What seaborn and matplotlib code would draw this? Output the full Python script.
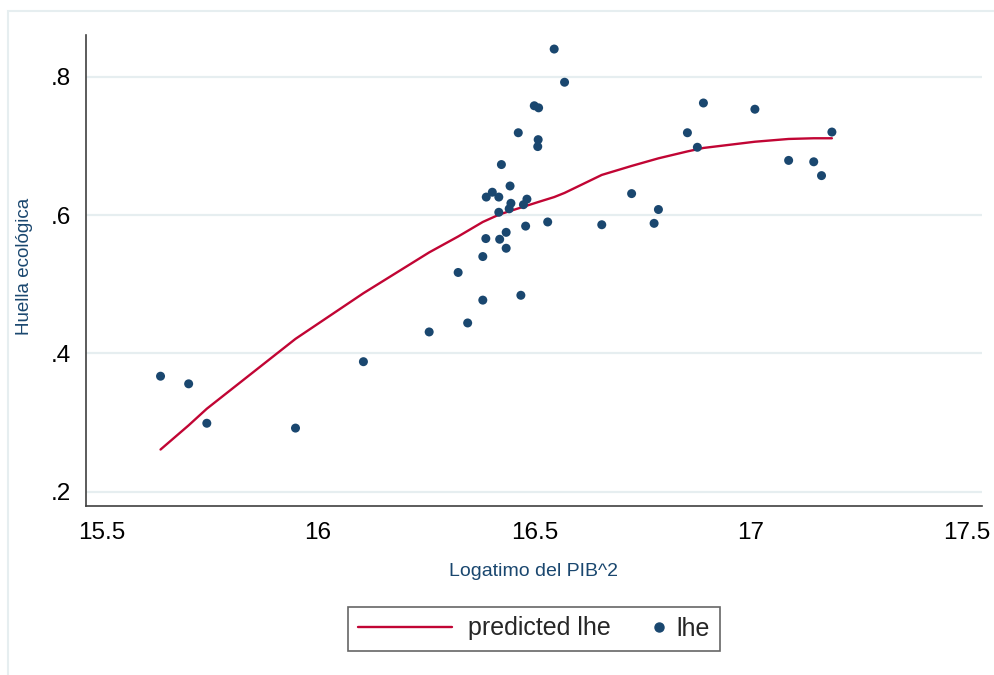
import matplotlib
matplotlib.use("Agg")
import matplotlib.pyplot as plt
import seaborn as sns
from matplotlib.lines import Line2D
from matplotlib.patches import Rectangle
from matplotlib.legend_handler import HandlerBase

# observed points (log GDP^2, ecological footprint)
lpib = [15.636, 15.701, 15.743, 15.948, 16.105, 16.257, 16.346, 16.381, 16.324, 16.381,
        16.388, 16.389, 16.403, 16.546, 16.570, 16.500, 16.510, 16.463, 16.509, 16.508,
        16.424, 16.444, 16.418, 16.483, 16.446, 16.442, 16.475, 16.418, 16.420, 16.435,
        16.435, 16.480, 16.531, 16.469, 16.656, 16.725, 16.777, 16.787, 16.854, 16.877,
        16.891, 17.010, 17.088, 17.146, 17.164, 17.188]
lhe = [0.367, 0.356, 0.299, 0.292, 0.388, 0.431, 0.444, 0.477, 0.517, 0.540,
       0.566, 0.626, 0.633, 0.840, 0.792, 0.758, 0.755, 0.719, 0.709, 0.699,
       0.673, 0.642, 0.626, 0.623, 0.617, 0.609, 0.615, 0.604, 0.565, 0.575,
       0.552, 0.584, 0.590, 0.484, 0.586, 0.631, 0.588, 0.608, 0.719, 0.698,
       0.762, 0.753, 0.679, 0.677, 0.657, 0.720]

# predicted lhe
pred_x = [15.636, 15.701, 15.743, 15.948, 16.105, 16.257, 16.324, 16.381, 16.420, 16.460,
          16.510, 16.546, 16.570, 16.656, 16.725, 16.787, 16.854, 16.891, 17.010, 17.088,
          17.146, 17.188]
pred_y = [0.261, 0.296, 0.320, 0.421, 0.487, 0.546, 0.569, 0.590, 0.601, 0.609,
          0.619, 0.626, 0.632, 0.658, 0.671, 0.682, 0.692, 0.697, 0.706, 0.710,
          0.711, 0.711]

y_ticks = [0.2, 0.4, 0.6, 0.8]
y_labels = [".2", ".4", ".6", ".8"]
x_ticks = [15.5, 16, 16.5, 17, 17.5]
x_labels = ["15.5", "16", "16.5", "17", "17.5"]

navy = "#1a476f"
cranberry = "#c10534"
grid_col = "#e6eef0"

sns.set_style("white")
plt.rcParams["font.family"] = ["Liberation Sans", "DejaVu Sans"]

fig = plt.figure(figsize=(9.95, 6.75), dpi=100)
ax = fig.add_axes([86 / 995, 1 - 505.7 / 675, 896 / 995, 470.7 / 675])

# outer graph region outline (only top/left visible)
fig.patches.append(Rectangle((8 / 995, -0.1), 1.2, 1 - 11 / 675 + 0.1,
                             transform=fig.transFigure, fill=False,
                             edgecolor=grid_col, lw=1.5))

for yt in y_ticks:
    ax.axhline(yt, color=grid_col, lw=1.6, zorder=0)

sns.lineplot(x=pred_x, y=pred_y, ax=ax, color=cranberry, lw=1.7,
             estimator=None, zorder=2)
sns.scatterplot(x=lpib, y=lhe, ax=ax, color=navy, s=42, edgecolor="none",
                zorder=3)

ax.set_xlim(15.4637, 17.535)
ax.set_ylim(0.1798, 0.8603)
ax.set_xticks(x_ticks)
ax.set_xticklabels(x_labels)
ax.set_yticks(y_ticks)
ax.set_yticklabels(y_labels)
ax.tick_params(axis="both", length=7, width=1.0, color="#404040",
               labelsize=17.5, labelcolor="black", direction="out", pad=4)
ax.tick_params(axis="x", pad=5)

for s in ["top", "right"]:
    ax.spines[s].set_visible(False)
for s in ["left", "bottom"]:
    ax.spines[s].set_color("#404040")
    ax.spines[s].set_linewidth(1.2)

ax.set_xlabel("Logatimo del PIB^2", fontsize=14, color=navy)
ax.set_ylabel("Huella ecológica", fontsize=13.5, color=navy)
ax.xaxis.set_label_coords(0.5, -0.122)
ax.yaxis.set_label_coords(-0.059, 0.508)


class DotHandler(HandlerBase):
    def create_artists(self, legend, orig_handle, xdescent, ydescent,
                       width, height, fontsize, trans):
        dot = Line2D([width - xdescent - 1], [height / 2 - ydescent],
                     marker="o", ms=6.5, color=navy, ls="none", transform=trans)
        return [dot]


line_h = Line2D([], [], color=cranberry, lw=1.7)
dot_h = Line2D([], [], marker="o", color=navy, ls="none")
leg = fig.legend([line_h, dot_h], ["predicted lhe", "lhe"], ncol=2,
                 loc="center", bbox_to_anchor=(534 / 995, 1 - 628.5 / 675),
                 fontsize=18, handlelength=3.76, handletextpad=0.64,
                 columnspacing=-1.8, borderpad=0.4, fancybox=False,
                 handler_map={dot_h: DotHandler()})
leg.get_frame().set_edgecolor("#404040")
leg.get_frame().set_linewidth(1.2)

fig.savefig("out.png", dpi=100)
